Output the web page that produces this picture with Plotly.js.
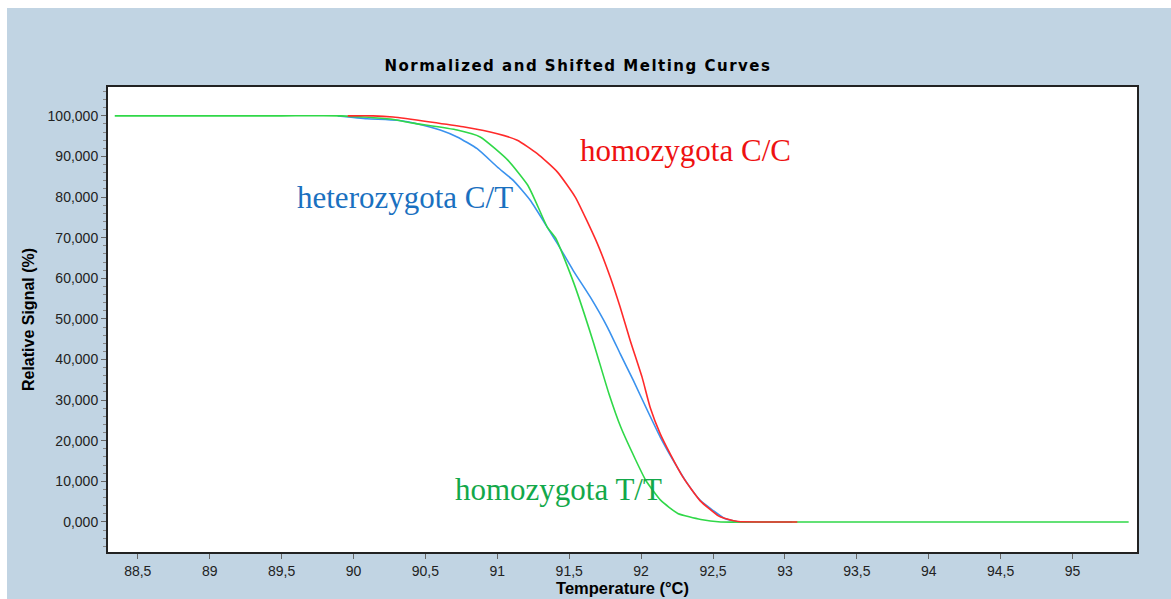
<!DOCTYPE html>
<html>
<head>
<meta charset="utf-8">
<script src="https://cdn.plot.ly/plotly-3.0.1.min.js"></script>
<style>
  html, body { margin: 0; padding: 0; background: #ffffff; }
  #chart { position: absolute; left: 7px; top: 8px; width: 1164px; height: 591px; }
  #chart .gtitle { letter-spacing: 1.5px; }
</style>
</head>
<body>
<div id="chart"></div>
<script>
// Melting curves: temperature (°C) vs. normalized relative signal (%)
const tempCC = [89.96, 90.136, 90.275, 90.533, 90.762, 91.0, 91.139, 91.278, 91.417, 91.542, 91.695, 91.785, 91.854, 91.924, 92.007, 92.063, 92.133, 92.203, 92.293, 92.411, 92.537, 92.579, 92.676, 92.85, 93.086];
const signalCC = [100, 100, 99.7, 98.5, 97.3, 95.6, 94.0, 90.7, 86.2, 80.0, 68.6, 60.3, 52.9, 44.7, 35.6, 28.2, 21.7, 16.7, 10.9, 5.2, 1.5, 0.9, 0.1, 0.0, 0.0];

const tempCT = [89.89, 90.095, 90.303, 90.484, 90.603, 90.721, 90.86, 91.0, 91.111, 91.229, 91.347, 91.417, 91.528, 91.646, 91.765, 91.855, 91.945, 92.043, 92.133, 92.224, 92.321, 92.411, 92.501, 92.578, 92.676, 92.85, 93.05];
const signalCT = [100, 99.3, 98.9, 97.7, 96.5, 94.8, 91.9, 87.4, 84.1, 79.2, 72.6, 68.6, 61.9, 55.4, 48.0, 41.4, 34.9, 27.5, 20.9, 15.1, 9.5, 5.3, 2.8, 0.9, 0.0, 0.0, 0.0];

const tempTT = [88.34, 89.0, 89.5, 89.91, 90.07, 90.255, 90.415, 90.721, 90.881, 91.073, 91.212, 91.263, 91.347, 91.407, 91.532, 91.664, 91.775, 91.859, 91.963, 92.033, 92.137, 92.255, 92.415, 92.554, 92.8, 93.0, 93.5, 94.0, 94.5, 95.0, 95.39];
const signalTT = [100, 100, 100, 100, 99.7, 99.2, 98.2, 96.5, 94.8, 89.1, 82.9, 79.2, 72.6, 69.8, 58.8, 44.7, 31.7, 23.3, 15.2, 10.2, 5.3, 2.1, 0.6, 0.0, 0.0, 0.0, 0.0, 0.0, 0.0, 0.0, 0.0];

// Curve labels and where they sit (temperature, signal)
const labelTexts = ['homozygota C/C', 'heterozygota C/T', 'homozygota T/T'];
const labelTemps = [92.307, 90.359, 91.423];
const labelSignals = [91.4, 79.8, 7.9];

const curveColors = { cc: '#ff2a2a', ct: '#3a92ee', tt: '#30d848' };
const labelColors = ['#ee1111', '#1a70c0', '#13a84a'];

const uiFont = 'Liberation Sans, Arial, sans-serif';

const curveLine = (color) => ({ color: color, width: 1.6, shape: 'spline', smoothing: 0.5 });

const traces = [
  { x: tempCT, y: signalCT, type: 'scatter', mode: 'lines', name: 'heterozygota C/T',
    line: curveLine(curveColors.ct), hoverinfo: 'x+y' },
  { x: tempTT, y: signalTT, type: 'scatter', mode: 'lines', name: 'homozygota T/T',
    line: curveLine(curveColors.tt), hoverinfo: 'x+y' },
  { x: tempCC, y: signalCC, type: 'scatter', mode: 'lines', name: 'homozygota C/C',
    line: curveLine(curveColors.cc), hoverinfo: 'x+y' }
];

const annotations = labelTexts.map((t, i) => ({
  x: labelTemps[i], y: labelSignals[i], xref: 'x', yref: 'y',
  text: t, showarrow: false, xanchor: 'center', yanchor: 'middle',
  font: { family: 'Liberation Serif, Times New Roman, serif', size: 31, color: labelColors[i] }
}));

const layout = {
  width: 1164, height: 591,
  paper_bgcolor: '#c1d4e3',
  plot_bgcolor: '#ffffff',
  margin: { l: 101, r: 34, t: 79, b: 47, pad: 0 },
  separators: ', ',
  showlegend: false,
  title: {
    text: '<b>Normalized and Shifted Melting Curves</b>',
    xref: 'container', yref: 'container',
    x: 0.4905, y: 0.902, xanchor: 'center', yanchor: 'middle',
    font: { family: 'DejaVu Sans, sans-serif', size: 15, color: '#000000' }
  },
  xaxis: {
    range: [88.293, 95.448],
    tick0: 88.5, dtick: 0.5,
    ticks: 'outside', ticklen: 5, tickwidth: 1, tickcolor: '#666666',
    showline: true, linecolor: '#222222', linewidth: 2, mirror: true,
    showgrid: false, zeroline: false,
    tickfont: { family: uiFont, size: 14, color: '#222222' },
    title: { text: '<b>Temperature (°C)</b>', standoff: 0,
             font: { family: uiFont, size: 16.5, color: '#000000' } }
  },
  yaxis: {
    range: [-7.4, 107.1],
    tick0: 0, dtick: 10, tickformat: '.3f',
    ticks: 'outside', ticklen: 5, tickwidth: 1, tickcolor: '#666666',
    minor: { dtick: 2, ticks: 'outside', ticklen: 3, tickcolor: '#888888', showgrid: false },
    showline: true, linecolor: '#222222', linewidth: 2, mirror: true,
    showgrid: false, zeroline: false,
    tickfont: { family: uiFont, size: 14, color: '#222222' },
    title: { text: '<b>Relative Signal (%)</b>', standoff: 9,
             font: { family: uiFont, size: 16, color: '#000000' } }
  },
  annotations: annotations
};

Plotly.newPlot('chart', traces, layout, { displayModeBar: false, staticPlot: true });
</script>
</body>
</html>
